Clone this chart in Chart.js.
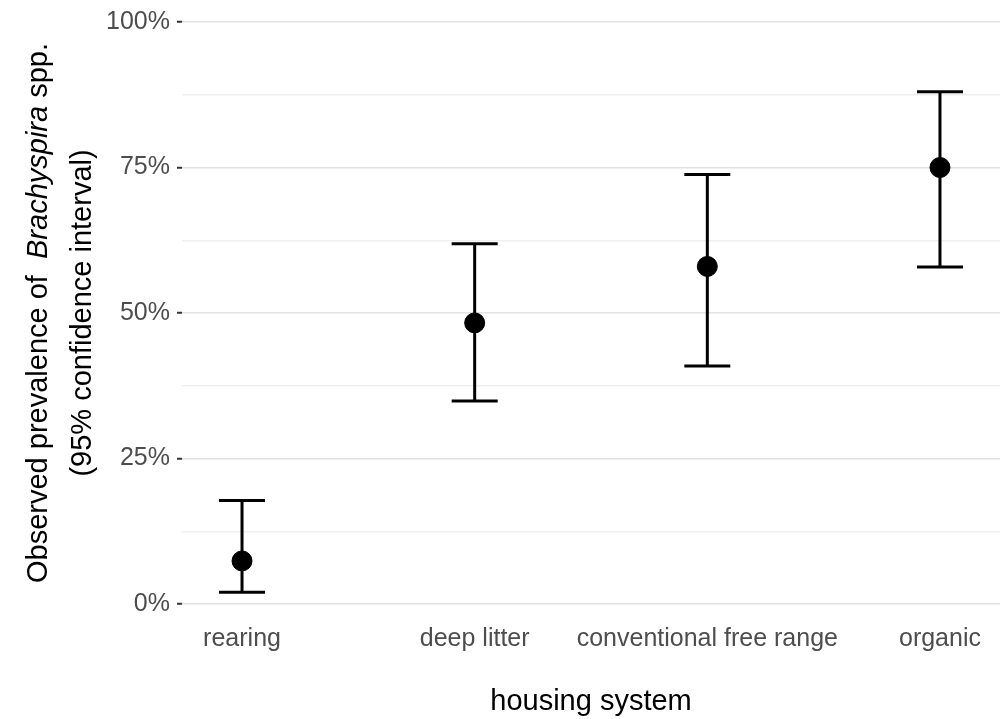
<!DOCTYPE html>
<html>
<head>
<meta charset="utf-8">
<script src="https://cdn.jsdelivr.net/npm/chart.js@4"></script>
<style>
  html, body { margin: 0; padding: 0; background: #fff; }
</style>
</head>
<body>
<canvas id="myChart" width="1005" height="719"></canvas>
<script>
const categories = ['rearing', 'deep litter', 'conventional free range', 'organic'];
const prevalence = [7.4, 48.3, 58.0, 75.0];
const lowerCI = [2.0, 34.9, 40.9, 57.9];
const upperCI = [17.8, 61.9, 73.8, 88.0];
const majorTicks = [0, 25, 50, 75, 100];

const FONT = '"Liberation Sans", Arial, sans-serif';

// vertical interval lines, broken by nulls between categories
const intervals = [];
categories.forEach((c, i) => {
    intervals.push({x: i, y: lowerCI[i]}, {x: i, y: upperCI[i]}, {x: i, y: null});
});
const points = categories.map((c, i) => ({x: i, y: prevalence[i]}));

// y title has an italic genus name, so it is drawn by hand
const yTitle = {
    id: 'yTitle',
    afterDraw(chart) {
        const ctx = chart.ctx;
        const area = chart.chartArea;
        const cy = (area.top + area.bottom) / 2;
        const lines = [
            [['Observed prevalence of  ', 'normal'], ['Brachyspira', 'italic'], [' spp.', 'normal']],
            [['(95% confidence interval)', 'normal']]
        ];
        const baselines = [47, 91];
        ctx.save();
        ctx.translate(0, cy);
        ctx.rotate(-Math.PI / 2);
        ctx.fillStyle = '#000';
        ctx.textBaseline = 'alphabetic';
        ctx.textAlign = 'left';
        lines.forEach((parts, k) => {
            const widths = parts.map(p => {
                ctx.font = p[1] + ' 29px ' + FONT;
                return ctx.measureText(p[0]).width;
            });
            let u = -widths.reduce((a, b) => a + b, 0) / 2;
            parts.forEach((p, j) => {
                ctx.font = p[1] + ' 29px ' + FONT;
                ctx.fillText(p[0], u, baselines[k]);
                u += widths[j];
            });
        });
        ctx.restore();
    }
};

new Chart(document.getElementById('myChart'), {
    type: 'scatter',
    data: {
        datasets: [{
            data: points,
            pointRadius: 10,
            pointBackgroundColor: '#000',
            pointBorderColor: '#000',
            pointBorderWidth: 1,
            order: 0
        }, {
            data: intervals,
            showLine: true,
            spanGaps: false,
            borderColor: '#000',
            borderWidth: 3,
            pointStyle: 'line',
            pointRadius: 23,
            pointBorderColor: '#000',
            pointBorderWidth: 3,
            order: 1
        }]
    },
    options: {
        responsive: false,
        animation: false,
        events: [],
        layout: {
            autoPadding: false,
            padding: {top: 20, right: 5, left: 0, bottom: 0}
        },
        plugins: {
            legend: {display: false},
            tooltip: {enabled: false}
        },
        scales: {
            x: {
                type: 'linear',
                min: -0.258,
                max: 3.258,
                afterBuildTicks: scale => {
                    scale.ticks = categories.map((c, i) => ({value: i}));
                },
                afterFit: scale => { scale.height = 115; },
                grid: {display: false, drawTicks: false},
                border: {display: false},
                ticks: {
                    autoSkip: false,
                    maxRotation: 0,
                    padding: 20,
                    color: '#4d4d4d',
                    font: {family: FONT, size: 25},
                    callback: v => categories[v]
                },
                title: {
                    display: true,
                    text: 'housing system',
                    color: '#000',
                    font: {family: FONT, size: 29},
                    padding: {top: 0, bottom: 0}
                }
            },
            y: {
                min: 0,
                max: 100,
                afterBuildTicks: scale => {
                    const t = [];
                    for (let v = 0; v <= 100; v += 12.5) t.push({value: v});
                    scale.ticks = t;
                },
                afterFit: scale => { scale.width = 182; },
                border: {display: false},
                grid: {
                    color: c => majorTicks.includes(c.tick.value) ? '#e2e2e2' : '#efefef',
                    lineWidth: 1.5,
                    tickLength: 5,
                    tickWidth: 2,
                    tickColor: c => majorTicks.includes(c.tick.value) ? '#333' : 'rgba(0,0,0,0)'
                },
                ticks: {
                    autoSkip: false,
                    padding: 7,
                    color: '#4d4d4d',
                    font: {family: FONT, size: 25},
                    callback: v => majorTicks.includes(v) ? v + '%' : ''
                }
            }
        }
    },
    plugins: [yTitle]
});
</script>
</body>
</html>
